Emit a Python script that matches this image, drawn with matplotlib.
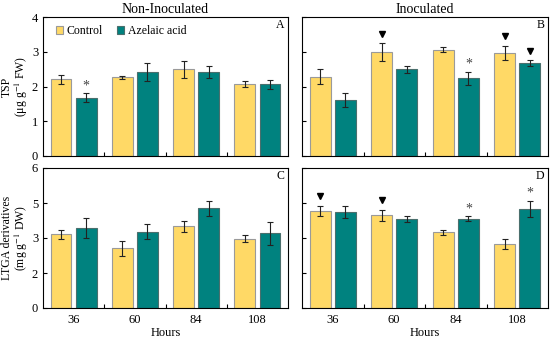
import numpy as np
import matplotlib
matplotlib.use("Agg")
import matplotlib.pyplot as plt
from matplotlib.transforms import ScaledTranslation

plt.rcParams["font.family"] = ["Liberation Serif", "DejaVu Serif"]
plt.rcParams["mathtext.fontset"] = "stix"

hours = ["36", "60", "84", "108"]
series = ["Control", "Azelaic acid"]

# TSP (µg g-1 FW)
tsp_noninoc_ctrl = [2.21, 2.26, 2.49, 2.08]
tsp_noninoc_ctrl_err = [0.13, 0.05, 0.25, 0.08]
tsp_noninoc_aza = [1.68, 2.42, 2.42, 2.07]
tsp_noninoc_aza_err = [0.12, 0.25, 0.17, 0.13]
tsp_inoc_ctrl = [2.28, 2.98, 3.06, 2.97]
tsp_inoc_ctrl_err = [0.22, 0.26, 0.08, 0.20]
tsp_inoc_aza = [1.61, 2.49, 2.24, 2.67]
tsp_inoc_aza_err = [0.21, 0.10, 0.19, 0.08]

# LTGA derivatives (mg g-1 DW)
ltga_noninoc_ctrl = [3.16, 2.56, 3.51, 2.96]
ltga_noninoc_ctrl_err = [0.20, 0.31, 0.24, 0.15]
ltga_noninoc_aza = [3.43, 3.27, 4.27, 3.20]
ltga_noninoc_aza_err = [0.41, 0.31, 0.32, 0.49]
ltga_inoc_ctrl = [4.16, 3.97, 3.24, 2.74]
ltga_inoc_ctrl_err = [0.21, 0.23, 0.11, 0.23]
ltga_inoc_aza = [4.11, 3.81, 3.83, 4.24]
ltga_inoc_aza_err = [0.26, 0.14, 0.11, 0.36]

# significance marks: (series index, hour index, symbol)
marks_A = [(1, 0, "*")]
marks_B = [(0, 1, "v"), (1, 2, "*"), (0, 3, "v"), (1, 3, "v")]
marks_C = []
marks_D = [(0, 0, "v"), (0, 1, "v"), (1, 2, "*"), (1, 3, "*")]

tsp_ticks = [0, 1, 2, 3, 4]
tsp_ticklabels = ["0", "1", "2", "3", "4"]
ltga_ticks = [0, 1.5, 3, 4.5, 6]
ltga_ticklabels = ["0", "2", "3", "5", "6"]

c_ctrl = "#FFD966"
c_aza = "#00827F"

W, H = 550, 341
fig = plt.figure(figsize=(W / 100, H / 100), dpi=100)


def box(x0, y0, x1, y1):
    return [x0 / W, 1 - y1 / H, (x1 - x0) / W, (y1 - y0) / H]


ax_a = fig.add_axes(box(43, 17, 288, 156))
ax_b = fig.add_axes(box(302, 17, 548, 156))
ax_c = fig.add_axes(box(43, 168, 288, 308))
ax_d = fig.add_axes(box(302, 168, 548, 308))


def draw_panel(ax, ctrl, ctrl_err, aza, aza_err, marks, ylim, letter):
    x = np.arange(len(hours))
    w = 0.34
    off = 0.205
    vals = [(ctrl, ctrl_err), (aza, aza_err)]
    b1 = ax.bar(x - off, ctrl, w, color=c_ctrl, edgecolor="#9a9a9a", linewidth=0.8,
                label=series[0], zorder=2)
    b2 = ax.bar(x + off, aza, w, color=c_aza, edgecolor="#4a6f6d", linewidth=0.8,
                label=series[1], zorder=2)
    ax.errorbar(x - off, ctrl, yerr=ctrl_err, fmt="none", ecolor="#222222",
                elinewidth=0.8, capsize=2, capthick=0.8, zorder=3)
    ax.errorbar(x + off, aza, yerr=aza_err, fmt="none", ecolor="#222222",
                elinewidth=0.8, capsize=2, capthick=0.8, zorder=3)
    shift = ScaledTranslation(0, 7 / 72, fig.dpi_scale_trans)
    for s, i, sym in marks:
        v, e = vals[s]
        xp = x[i] + (off if s == 1 else -off)
        top = v[i] + e[i]
        if sym == "v":
            ax.plot(xp, top, marker="v", color="black", markersize=5,
                    linestyle="none", zorder=4, transform=ax.transData + shift)
        else:
            ax.annotate("*", (xp, top), xytext=(0, 0.5), textcoords="offset points",
                        ha="center", va="bottom", fontsize=10, color="#444444")
    ax.set_xlim(-0.5, len(hours) - 0.5)
    ax.set_ylim(*ylim)
    ax.set_xticks(x)
    ax.set_xticks(np.arange(0.5, len(hours) - 0.5, 1), minor=True)
    ax.tick_params(axis="x", which="major", length=0, labelsize=9, pad=4)
    ax.tick_params(axis="x", which="minor", direction="in", length=3, width=0.8)
    ax.tick_params(axis="y", direction="in", length=3, width=0.8, labelsize=9)
    for sp in ax.spines.values():
        sp.set_linewidth(0.8)
    ax.text(0.985, 0.94, letter, transform=ax.transAxes, ha="right", va="center",
            fontsize=8.5)
    return b1, b2


bars = draw_panel(ax_a, tsp_noninoc_ctrl, tsp_noninoc_ctrl_err, tsp_noninoc_aza,
                  tsp_noninoc_aza_err, marks_A, (0, 4), "A")
draw_panel(ax_b, tsp_inoc_ctrl, tsp_inoc_ctrl_err, tsp_inoc_aza, tsp_inoc_aza_err,
           marks_B, (0, 4), "B")
draw_panel(ax_c, ltga_noninoc_ctrl, ltga_noninoc_ctrl_err, ltga_noninoc_aza,
           ltga_noninoc_aza_err, marks_C, (0, 6), "C")
draw_panel(ax_d, ltga_inoc_ctrl, ltga_inoc_ctrl_err, ltga_inoc_aza, ltga_inoc_aza_err,
           marks_D, (0, 6), "D")

for ax in (ax_a, ax_b):
    ax.set_yticks(tsp_ticks)
    ax.set_xticklabels([])
for ax in (ax_c, ax_d):
    ax.set_yticks(ltga_ticks)
    ax.set_xticklabels(hours)
    ax.set_xlabel("Hours", fontsize=9, labelpad=1)
ax_a.set_yticklabels(tsp_ticklabels)
ax_c.set_yticklabels(ltga_ticklabels)
ax_b.set_yticklabels([])
ax_d.set_yticklabels([])

ax_a.set_ylabel("TSP\n(μg g$^{-1}$ FW)", fontsize=8.5, labelpad=1,
                linespacing=1.0)
ax_c.set_ylabel("LTGA derivatives\n(mg g$^{-1}$ DW)", fontsize=8.5, labelpad=1,
                linespacing=1.0)
ax_a.set_title("Non-Inoculated", fontsize=10, pad=3)
ax_b.set_title("Inoculated", fontsize=10, pad=3)

ax_a.legend(handles=bars, loc="upper left", bbox_to_anchor=(0.02, 1.0), ncol=2,
            frameon=False, fontsize=8.5, handlelength=0.6, handleheight=0.6,
            handletextpad=0.3, columnspacing=1.2, borderaxespad=0.3)

fig.savefig("out.png", dpi=100)
